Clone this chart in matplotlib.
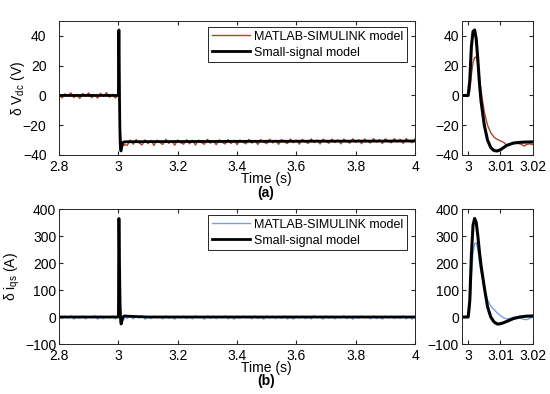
import numpy as np
import matplotlib
matplotlib.use('Agg')
import matplotlib.pyplot as plt

plt.rcParams['font.family'] = ['Liberation Sans', 'DejaVu Sans']
plt.rcParams['mathtext.default'] = 'regular'
plt.rcParams['font.size'] = 10

# ---- transient around the step (inset data) ----
t_vdc_ss = [2.998, 3.0, 3.0005, 3.001, 3.0015, 3.002, 3.0025, 3.003, 3.0035, 3.004, 3.005,
            3.006, 3.007, 3.008, 3.009, 3.010, 3.011, 3.012, 3.014, 3.016, 3.018, 3.02]
vdc_ss = [0, 0, 10, 33, 43, 44, 38, 24, 8, -4, -20,
          -30, -35, -37, -37.3, -36.5, -35, -33.5, -32, -31.5, -31.3, -31.2]

t_vdc_sim = [2.998, 3.0, 3.0005, 3.001, 3.0015, 3.002, 3.0025, 3.003, 3.0035, 3.004, 3.005,
             3.006, 3.007, 3.008, 3.009, 3.010, 3.011, 3.012, 3.013, 3.014, 3.015, 3.016,
             3.017, 3.0175, 3.018, 3.019, 3.02]
vdc_sim = [0, 0.5, 3, 14, 22, 25.5, 26, 21, 12, 3, -11,
           -20, -25, -28, -29.5, -30.5, -31.5, -33.5, -33, -32, -32, -32.5,
           -33.5, -34, -33, -32.5, -33]

t_iqs_ss = [2.998, 3.0, 3.0005, 3.001, 3.0015, 3.002, 3.0025, 3.003, 3.0035, 3.004, 3.005,
            3.006, 3.007, 3.008, 3.009, 3.010, 3.011, 3.012, 3.013, 3.014, 3.016, 3.018, 3.02]
iqs_ss = [0, 0, 60, 230, 340, 365, 350, 300, 240, 190, 110,
          38, 0, -18, -26, -25, -21, -16, -11, -6, 0, 3, 4]

t_iqs_sim = [2.998, 3.0, 3.0005, 3.001, 3.0015, 3.002, 3.0025, 3.003, 3.0035, 3.004, 3.005,
             3.006, 3.007, 3.008, 3.009, 3.010, 3.011, 3.012, 3.013, 3.014, 3.015, 3.016,
             3.017, 3.018, 3.019, 3.02]
iqs_sim = [0, 2, 30, 150, 240, 272, 275, 250, 205, 165, 105,
           63, 40, 28, 15, 5, -3, -7, -5, -1, 0, -3,
           -8, -10, -6, 0]

# ---- ripple of the simulink traces before / after the step (every 10 ms) ----
t_pre = np.arange(2.80, 2.995, 0.01)
t_post = np.arange(3.03, 4.005, 0.01)

vdc_sim_pre = [0.3, -1.6, 1.1, -0.4, 1.8, -1.4, 0.7, -2.0, 1.3, -0.3,
               1.7, -1.5, 0.5, -1.8, 1.5, -0.7, 1.9, -1.2, 0.8, -1.7]
vdc_sim_post = [-33.5, -30.0, -32.8, -29.6, -31.9, -33.2, -29.8, -32.4, -30.3, -33.6,
                -30.1, -31.7, -32.9, -29.5, -32.2, -30.6, -33.4, -29.9, -31.8, -32.7,
                -29.7, -32.5, -30.2, -33.3, -30.0, -31.6, -32.8, -29.4, -32.1, -30.4,
                -33.1, -29.8, -31.5, -32.6, -29.6, -32.3, -30.1, -33.0, -29.9, -31.4,
                -32.5, -29.5, -32.0, -30.3, -32.9, -29.7, -31.3, -32.4, -29.4, -31.9,
                -30.2, -32.8, -29.6, -31.2, -32.3, -29.3, -31.8, -30.0, -32.7, -29.5,
                -31.1, -32.2, -29.2, -31.7, -29.9, -32.6, -29.4, -31.0, -32.1, -29.3,
                -31.6, -29.8, -32.5, -29.3, -30.9, -32.0, -29.1, -31.5, -29.7, -32.4,
                -29.2, -30.8, -31.9, -29.0, -31.4, -29.6, -32.3, -29.1, -30.7, -31.8,
                -29.0, -31.3, -29.5, -32.2, -29.0, -30.6, -31.7, -29.1]

iqs_sim_pre = [2, -6, 3, -4, 5, -8, 1, -5, 4, -7, 2, -3, 5, -8, 3, -6, 1, -4, 4, -7]
iqs_sim_post = [-5, 3, -7, 2, -4, 5, -8, 1, -6, 4,
                -3, 2, -7, 5, -5, 1, -8, 3, -4, 4,
                -6, 2, -7, 5, -3, 1, -8, 4, -5, 3,
                -6, 2, -4, 5, -7, 1, -8, 3, -5, 4,
                -3, 2, -7, 5, -6, 1, -8, 4, -4, 3,
                -6, 2, -5, 5, -7, 1, -8, 3, -4, 4,
                -6, 2, -7, 5, -3, 1, -8, 4, -5, 3,
                -7, 2, -4, 5, -6, 1, -8, 3, -5, 4,
                -3, 2, -7, 5, -6, 1, -8, 4, -4, 3,
                -6, 2, -5, 5, -7, 1, -8, 3]

# small-signal model is smooth outside the transient
t_ss_pre = [2.80]
t_ss_post = [3.03, 3.10, 3.50, 4.00]
vdc_ss_pre = [0]
vdc_ss_post = [-31.1, -31.0, -30.8, -30.6]
iqs_ss_pre = [0]
iqs_ss_post = [3, 0, 0, 0]

red = '#b0452a'
blue = '#72a2e4'
axcol = '#262626'


def style(ax, ypad=2):
    ax.tick_params(direction='in', top=True, right=True, length=3,
                   colors=axcol, labelcolor='black', labelsize=10)
    ax.tick_params(axis='x', pad=3.5)
    ax.tick_params(axis='y', pad=ypad)
    for s in ax.spines.values():
        s.set_color(axcol)
        s.set_linewidth(0.7)


def add_legend(ax):
    leg = ax.legend(loc='upper right', bbox_to_anchor=(1 - 8 / 356, 1 - 6 / 134),
                    borderaxespad=0, frameon=True, fancybox=False, framealpha=1,
                    edgecolor=axcol, handlelength=3.1, handletextpad=0.3,
                    borderpad=0.3, labelspacing=0.3, fontsize=9)
    leg.get_frame().set_linewidth(0.7)


fig = plt.figure(figsize=(5.5, 3.94), dpi=100)

ax1 = fig.add_axes([0.1073, 0.6066, 0.6473, 0.340])
ax2 = fig.add_axes([0.8395, 0.6066, 0.129, 0.340])
ax3 = fig.add_axes([0.1073, 0.1269, 0.6473, 0.3426])
ax4 = fig.add_axes([0.8395, 0.1269, 0.129, 0.3426])

t_sim_full = np.concatenate([t_pre, t_vdc_sim, t_post])
t_ss_full = np.concatenate([t_ss_pre, t_vdc_ss, t_ss_post])
t_isim_full = np.concatenate([t_pre, t_iqs_sim, t_post])
t_iss_full = np.concatenate([t_ss_pre, t_iqs_ss, t_ss_post])

time_ticks = [2.8, 3, 3.2, 3.4, 3.6, 3.8, 4]
time_labels = ['2.8', '3', '3.2', '3.4', '3.6', '3.8', '4']

# (a) DC voltage
ax1.plot(t_sim_full, np.concatenate([vdc_sim_pre, vdc_sim, vdc_sim_post]),
         color=red, lw=1.0, label='MATLAB-SIMULINK model')
ax1.plot(t_ss_full, np.concatenate([vdc_ss_pre, vdc_ss, vdc_ss_post]),
         color='black', lw=2.0, label='Small-signal model')
ax1.set_xlim(2.8, 4)
ax1.set_ylim(-40, 50)
ax1.set_xticks(time_ticks)
ax1.set_xticklabels(time_labels)
ax1.set_yticks([-40, -20, 0, 20, 40])
ax1.set_ylabel('δ V$_{dc}$ (V)')
ax1.yaxis.set_label_coords((27 - 59) / 356, 0.5)
add_legend(ax1)
style(ax1, ypad=9)

ax2.plot(t_vdc_sim, vdc_sim, color=red, lw=1.0)
ax2.plot(t_vdc_ss, vdc_ss, color='black', lw=2.2)
ax2.set_xlim(2.998, 3.02)
ax2.set_ylim(-40, 50)
ax2.set_xticks([3, 3.01, 3.02])
ax2.set_xticklabels(['3', '3.01', '3.02'])
ax2.set_yticks([-40, -20, 0, 20, 40])
style(ax2)

# (b) q-axis current
ax3.plot(t_isim_full, np.concatenate([iqs_sim_pre, iqs_sim, iqs_sim_post]),
         color=blue, lw=1.0, label='MATLAB-SIMULINK model')
ax3.plot(t_iss_full, np.concatenate([iqs_ss_pre, iqs_ss, iqs_ss_post]),
         color='black', lw=2.0, label='Small-signal model')
ax3.set_xlim(2.8, 4)
ax3.set_ylim(-100, 400)
ax3.set_xticks(time_ticks)
ax3.set_xticklabels(time_labels)
ax3.set_yticks([-100, 0, 100, 200, 300, 400])
ax3.set_ylabel('δ i$_{qs}$ (A)')
ax3.yaxis.set_label_coords((22 - 59) / 356, 0.5)
add_legend(ax3)
style(ax3)

ax4.plot(t_iqs_sim, iqs_sim, color=blue, lw=1.0)
ax4.plot(t_iqs_ss, iqs_ss, color='black', lw=2.2)
ax4.set_xlim(2.998, 3.02)
ax4.set_ylim(-100, 400)
ax4.set_xticks([3, 3.01, 3.02])
ax4.set_xticklabels(['3', '3.01', '3.02'])
ax4.set_yticks([-100, 0, 100, 200, 300, 400])
style(ax4)

fig.text(266 / 550, 1 - 179 / 394, 'Time (s)', ha='center', va='center', fontsize=10)
fig.text(266 / 550, 1 - 193 / 394, '(a)', ha='center', va='center', fontsize=10,
         fontweight='bold')
fig.text(266 / 550, 1 - 368 / 394, 'Time (s)', ha='center', va='center', fontsize=10)
fig.text(266 / 550, 1 - 381 / 394, '(b)', ha='center', va='center', fontsize=10,
         fontweight='bold')

fig.savefig('out.png', dpi=100)
